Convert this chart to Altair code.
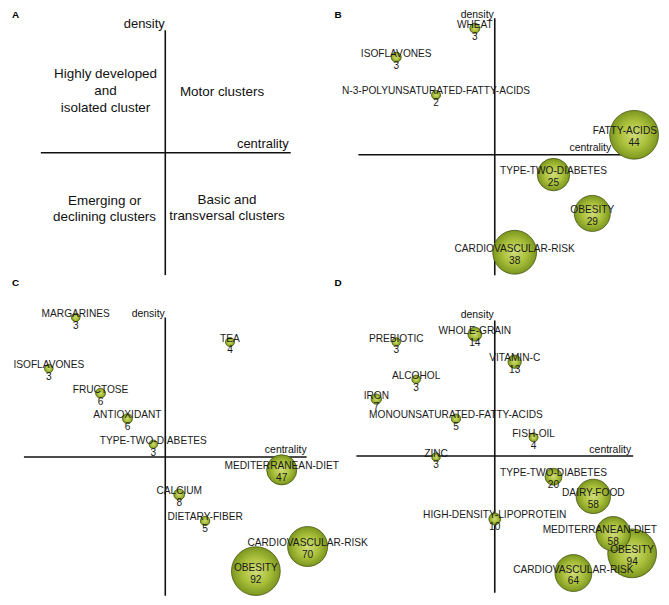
import altair as alt
import pandas as pd

FONT = "Liberation Sans"
INK = "#111111"

# ---------------- Panel A: quadrant descriptions ----------------
a_lines = ["Highly developed", "and", "isolated cluster", "Motor clusters",
           "Emerging or", "declining clusters", "Basic and", "transversal clusters"]
a_cen = [-6.0, -6.0, -6.0, 5.7, -6.1, -6.1, 6.2, 6.2]
a_den = [7.9, 6.2, 4.5, 6.1, -4.9, -6.5, -4.8, -6.4]

# ---------------- Panel B ----------------
b_names = ["WHEAT", "ISOFLAVONES", "N-3-POLYUNSATURATED-FATTY-ACIDS", "FATTY-ACIDS",
           "TYPE-TWO-DIABETES", "OBESITY", "CARDIOVASCULAR-RISK"]
b_cen = [-2.0, -9.9, -5.9, 14.0, 5.9, 9.8, 2.0]
b_den = [12.7, 9.8, 6.0, 2.0, -2.0, -5.9, -9.8]
b_docs = [3, 3, 2, 44, 25, 29, 38]

# ---------------- Panel C ----------------
c_names = ["MARGARINES", "TEA", "ISOFLAVONES", "FRUCTOSE", "ANTIOXIDANT",
           "TYPE-TWO-DIABETES", "MEDITERRANEAN-DIET", "CALCIUM", "DIETARY-FIBER",
           "CARDIOVASCULAR-RISK", "OBESITY"]
c_cen = [-9.0, 6.5, -11.7, -6.5, -3.8, -1.2, 11.7, 1.4, 4.0, 14.3, 9.1]
c_den = [14.2, 11.7, 9.0, 6.5, 3.9, 1.3, -1.3, -3.8, -6.5, -9.1, -11.6]
c_docs = [3, 4, 3, 6, 6, 3, 47, 8, 5, 70, 92]

# ---------------- Panel D ----------------
d_names = ["PREBIOTIC", "WHOLE-GRAIN", "VITAMIN-C", "ALCOHOL", "IRON",
           "MONOUNSATURATED-FATTY-ACIDS", "FISH-OIL", "ZINC", "TYPE-TWO-DIABETES",
           "DAIRY-FOOD", "HIGH-DENSITY-LIPOPROTEIN", "OBESITY", "MEDITERRANEAN-DIET",
           "CARDIOVASCULAR-RISK"]
d_cen = [-9.9, -2.0, 2.0, -7.9, -11.9, -3.9, 3.9, -5.9, 5.9, 9.9, 0.0, 13.8, 11.9, 7.9]
d_den = [11.6, 12.4, 9.6, 7.8, 5.8, 3.8, 1.9, -0.1, -2.1, -4.1, -6.4, -9.9, -7.9, -11.9]
d_docs = [3, 14, 13, 3, 7, 5, 4, 3, 20, 58, 10, 94, 58, 64]

# labels that would run past the right edge of the page: right-aligned to the panel edge
EDGE_LABELS = {"B": ["FATTY-ACIDS"], "D": ["MEDITERRANEAN-DIET"]}

GRAD = alt.RadialGradient(
    gradient="radial",
    stops=[alt.GradientStop(color="#d0dc7a", offset=0),
           alt.GradientStop(color="#abc13c", offset=0.55),
           alt.GradientStop(color="#7c961f", offset=1)],
    x1=0.5, y1=0.5, r1=0, x2=0.5, y2=0.5, r2=0.5,
)

LABEL_FS = 10.2


def panel(letter, letter_xy, xdom, ydom, hspan, vspan, dens_xy, cent_xy,
          axis_fs, W, H, pts=None, rmax=25, quad=None):
    xs = alt.Scale(domain=xdom, nice=False, zero=False)
    ys = alt.Scale(domain=ydom, nice=False, zero=False)
    X = lambda f: alt.X(f, type="quantitative", scale=xs, axis=None)
    Y = lambda f: alt.Y(f, type="quantitative", scale=ys, axis=None)

    rules_df = pd.DataFrame({"x": [hspan[0], 0], "x2": [hspan[1], 0],
                             "y": [0, vspan[0]], "y2": [0, vspan[1]]})
    rules = alt.Chart(rules_df).mark_rule(color=INK, strokeWidth=1.6).encode(
        x=X("x"), x2="x2", y=Y("y"), y2="y2")
    layers = [rules]

    if quad is not None:
        qdf = pd.DataFrame({"t": quad[0], "x": quad[1], "y": quad[2]})
        layers.append(alt.Chart(qdf).mark_text(font=FONT, fontSize=13.5, color=INK,
                                                 align="center", baseline="middle").encode(
            x=X("x"), y=Y("y"), text="t:N"))

    if pts is not None:
        names, cen, den, docs = pts
        df = pd.DataFrame({"name": names, "cen": cen, "den": den, "docs": docs})
        edge = EDGE_LABELS.get(letter, [])
        size = alt.Size("docs:Q", legend=None,
                        scale=alt.Scale(type="pow", exponent=1.5, domain=[0, max(docs)],
                                        range=[60, 4 * rmax * rmax]))
        circles = alt.Chart(df).mark_circle(fill=GRAD, stroke="#46560f", strokeWidth=0.8,
                                            opacity=1).encode(
            x=X("cen"), y=Y("den"), size=size)
        lab = alt.Chart(df).transform_filter(
            alt.FieldOneOfPredicate(field="name", oneOf=[n for n in names if n not in edge])
        ).mark_text(font=FONT, fontSize=LABEL_FS, color="#1a1a1a", dy=-3.5,
                    baseline="middle").encode(
            x=X("cen"), y=Y("den"), text="name:N")
        cnt = alt.Chart(df).mark_text(font=FONT, fontSize=LABEL_FS, color="#1a1a1a", dy=8.5,
                                      baseline="middle").encode(
            x=X("cen"), y=Y("den"), text="docs:Q")
        layers += [circles, lab, cnt]
        if edge:
            lab_edge = alt.Chart(df).transform_filter(
                alt.FieldOneOfPredicate(field="name", oneOf=edge)
            ).mark_text(font=FONT, fontSize=LABEL_FS, color="#1a1a1a", dy=-3.5,
                        align="right", baseline="middle").encode(
                x=alt.value(W - 1), y=Y("den"), text="name:N")
            layers.append(lab_edge)

    ann_df = pd.DataFrame({"t": ["density", "centrality"],
                           "x": [dens_xy[0], cent_xy[0]], "y": [dens_xy[1], cent_xy[1]]})
    ann = alt.Chart(ann_df).mark_text(font=FONT, fontSize=axis_fs, color=INK, align="right",
                                      baseline="middle").encode(
        x=X("x"), y=Y("y"), text="t:N")
    let_df = pd.DataFrame({"t": [letter], "x": [letter_xy[0]], "y": [letter_xy[1]]})
    let = alt.Chart(let_df).mark_text(font=FONT, fontSize=10, fontWeight="bold", color="#000000",
                                      align="left", baseline="middle").encode(
        x=X("x"), y=Y("y"), text="t:N")
    layers += [ann, let]
    return alt.layer(*layers).properties(width=W, height=H)


W1, W2, H1, H2 = 327, 326, 270, 318

pA = panel("A", (-15.4, 13.8), [-15.8, 16.9], [-12.7, 14.3], (-12.5, 12.6), (-12.3, 12.3),
           (-0.05, 12.9), (12.4, 0.9), 13, W1, H1,
           quad=(a_lines, a_cen, a_den))
pB = panel("B", (-16.1, 14.0), [-16.2, 16.4], [-12.5, 14.5], (-13.7, 12.8), (-12.1, 13.7),
           (-0.1, 14.0), (11.7, 0.7), 10.5, W2, H1,
           pts=(b_names, b_cen, b_den, b_docs), rmax=24.5)
pC = panel("C", (-15.4, 17.7), [-15.8, 16.9], [-14.1, 18.1], (-14.2, 14.2), (-14.1, 14.2),
           (-0.05, 14.6), (14.2, 0.7), 10.5, W1, H2,
           pts=(c_names, c_cen, c_den, c_docs), rmax=24.5)
pD = panel("D", (-16.1, 17.6), [-16.2, 16.4], [-14.2, 18.0], (-13.9, 13.9), (-13.9, 13.8),
           (-0.1, 14.3), (13.7, 0.6), 10.5, W2, H2,
           pts=(d_names, d_cen, d_den, d_docs), rmax=24.5)

chart = alt.concat(pA, pB, pC, pD, columns=2, spacing=0, bounds="flush").resolve_scale(
    x="independent", y="independent", size="independent"
).properties(padding=0, background="white").configure(padding=0).configure_view(stroke=None)

chart.save("out.html", embed_options={"renderer": "svg", "actions": False})
